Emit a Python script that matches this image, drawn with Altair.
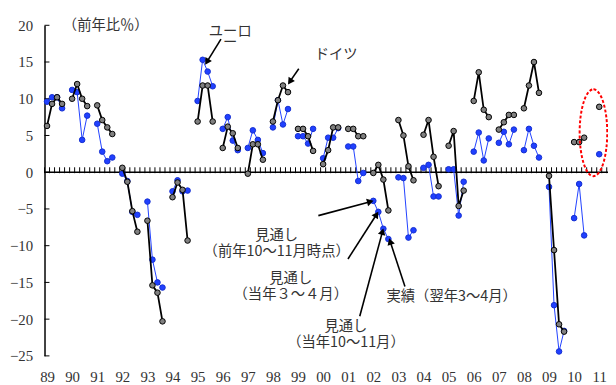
import math
import altair as alt
import numpy as np
import pandas as pd

# ---------------- data ----------------
years = list(range(1989, 2012))
# each year: [前年10~11月見通し, 当年3~4月見通し, 当年10~11月見通し, 実績(翌年3~4月)]
germany = [
    [6.3, 9.3, 10.2, 9.3],
    [10.0, 12.0, 10.0, 9.0],
    [9.1, 7.1, 6.1, 5.2],
    [0.6, -1.3, -5.3, -8.1],
    [-6.6, -15.4, -16.4, -20.3],
    [-3.4, -1.4, -2.4, -9.3],
    [6.9, 11.8, 11.8, 6.9],
    [3.3, 6.2, 5.3, 3.3],
    [-0.2, 3.8, 3.8, 1.7],
    [6.9, 9.8, 11.8, 10.9],
    [5.9, 5.9, 4.9, 2.9],
    [1.1, 3.0, 6.1, 6.1],
    [5.9, 5.9, 4.9, 4.9],
    [-0.1, 1.0, -1.0, -5.2],
    [7.1, 5.0, 0.8, -1.1],
    [5.1, 7.1, 2.1, -1.9],
    [3.6, 5.6, -4.6, -2.5],
    [9.7, 13.6, 8.5, 7.5],
    [5.8, 6.8, 7.8, 7.8],
    [8.7, 11.8, 15.0, 10.8],
    [-0.5, -10.6, -20.7, -21.7],
    [4.1, 4.1, 4.7],
    [8.9],
]
euro = [
    [9.6, 10.2, 10.2, 8.7],
    [11.2, 10.9, 4.4, 7.7],
    [6.6, 2.8, 1.5, 2.0],
    [-0.2, -1.2, -5.4, -5.8],
    [-4.0, -11.9, -15.0, -15.7],
    [-2.6, -1.1, -2.6, -2.5],
    [9.7, 15.3, 13.7, 11.7],
    [5.9, 7.5, 4.3, 3.0],
    [3.3, 5.7, 4.4, 2.6],
    [6.1, 9.8, 6.5, 8.6],
    [4.9, 4.9, 3.9, 5.9],
    [1.9, 4.7, 4.7, 6.0],
    [3.5, 3.5, -1.2, -0.1],
    [-3.9, -5.4, -7.7, -9.1],
    [-0.7, -0.8, -8.9, -7.9],
    [0.6, 1.0, -3.3, -3.3],
    [0.4, 0.4, -5.9, -1.3],
    [2.8, 5.4, 1.6, 4.6],
    [4.0, 5.5, 3.8, 5.8],
    [3.0, 5.9, 3.6, 2.0],
    [-2.0, -18.1, -24.4, -21.6],
    [-6.25, -1.6, -8.6],
    [2.45],
]
y_ticks = [-25, -20, -15, -10, -5, 0, 5, 10, 15, 20]

# annotation texts (x in year-index units, y in %); "\n" = line break
ann_text = ["（前年比％）", "ドイツ",
            "見通し\n（前年10〜11月時点）",
            "見通し\n（当年３～４月）",
            "見通し\n（当年10〜11月）",
            "実績（翌年3〜4月）"]
ann_x = [2.34, 11.52, 9.15, 9.71, 11.91, 16.12]
ann_y = [19.87, 15.97, -8.66, -14.56, -21.14, -17.05]
euro_label = "ユーロ\nー"
euro_x, euro_y = 7.3, 19.06

# arrows: start -> end
arr_x1 = [6.93, 10.03, 10.81, 11.99, 12.46, 14.26]
arr_y1 = [18.12, 14.09, -5.91, -11.81, -19.6, -15.57]
arr_x2 = [6.30, 9.60, 13.01, 13.20, 13.40, 13.63]
arr_y2 = [14.63, 11.95, -3.89, -5.37, -7.65, -8.99]

# ---------------- layout ----------------
W, H = 571, 335
XMIN, XMAX = -0.1, 22.35
YMIN, YMAX = -25, 20


def px(x):
    return (x - XMIN) / (XMAX - XMIN) * W


def py(y):
    return (YMAX - y) / (YMAX - YMIN) * H


def dx(p):
    return p / W * (XMAX - XMIN) + XMIN


def dy(p):
    return YMAX - p / H * (YMAX - YMIN)


rows = []
for i, yr in enumerate(years):
    for q, v in enumerate(germany[i]):
        rows.append(dict(series="ドイツ", year=yr, x=i + 0.2 * q, v=v))
    for q, v in enumerate(euro[i]):
        rows.append(dict(series="ユーロ", year=yr, x=i + 0.2 * q, v=v))
df = pd.DataFrame(rows)
df_de = df[df.series == "ドイツ"]
df_eu = df[df.series == "ユーロ"]

xs = alt.Scale(domain=[XMIN, XMAX], nice=False, zero=False)
ys = alt.Scale(domain=[YMIN, YMAX], nice=False, zero=False)

LABEL_FONT = "Liberation Serif"
JP_FONT = "Noto Sans CJK JP"
TXT = "#333333"

x_axis = alt.Axis(values=list(range(len(years))),
                  labelExpr="format((datum.value + 89) % 100, '02d')",
                  domain=False, ticks=False, grid=False, title=None,
                  labelPadding=14, labelFontSize=15, labelFont=LABEL_FONT,
                  labelColor=TXT, labelFlush=False, labelOverlap=False)
y_axis = alt.Axis(values=y_ticks, domain=True, domainColor="black", domainWidth=1.5,
                  ticks=False, grid=False, title=None, labelPadding=12,
                  labelFontSize=15, labelFont=LABEL_FONT, labelColor=TXT)

X = lambda f: alt.X(f, type="quantitative", scale=xs, axis=x_axis)
Y = lambda f: alt.Y(f, type="quantitative", scale=ys, axis=y_axis)

zero_line = alt.Chart(pd.DataFrame({"v": [0]})).mark_rule(color="black", strokeWidth=1.5).encode(
    y=Y("v"), x=alt.value(0), x2=alt.value(W))

tick_pos = np.arange(XMIN, XMAX, 0.2)
zpx = py(0)
zero_ticks = alt.Chart(pd.DataFrame({"x": tick_pos})).mark_rule(color="black", strokeWidth=1).encode(
    x=X("x"), y=alt.value(zpx - 5), y2=alt.value(zpx + 1))

y_in_ticks = alt.Chart(pd.DataFrame({"v": y_ticks})).mark_rule(color="black", strokeWidth=1).encode(
    y=Y("v"), x=alt.value(0), x2=alt.value(5))

BLUE = "#2040FF"
eu_line = alt.Chart(df_eu).mark_line(color=BLUE, strokeWidth=1).encode(
    x=X("x"), y=Y("v"), detail="year:N", order="x:Q")
eu_pts = alt.Chart(df_eu).mark_point(filled=True, fill=BLUE, stroke="#1530D0",
                                     strokeWidth=1, size=32, opacity=1, shape="circle").encode(
    x=X("x"), y=Y("v"))
de_line = alt.Chart(df_de).mark_line(color="black", strokeWidth=1.8).encode(
    x=X("x"), y=Y("v"), detail="year:N", order="x:Q")
de_pts = alt.Chart(df_de).mark_point(filled=True, fill="#808080", stroke="black",
                                     strokeWidth=1, size=32, opacity=1, shape="circle").encode(
    x=X("x"), y=Y("v"))

# red dashed ellipse around the 2011 forecasts
ell_path = "M 0 -1 A 0.318 1 0 1 1 0 1 A 0.318 1 0 1 1 0 -1 Z"
ellipse = alt.Chart(pd.DataFrame({"x": [21.77], "v": [5.37]})).mark_point(
    shape=ell_path, size=88 * 88, filled=False, stroke="red", strokeWidth=2,
    strokeDash=[3, 2], opacity=1).encode(x=X("x"), y=Y("v"))

tdf = pd.DataFrame({"t": ann_text, "x": ann_x, "v": ann_y})
texts = alt.Chart(tdf).mark_text(
    font=JP_FONT, fontSize=14.5, color=TXT, align="center", baseline="middle",
    lineBreak="\n", lineHeight=16).encode(
    x=X("x"), y=Y("v"), text="t:N")

euro_text = alt.Chart(pd.DataFrame({"t": [euro_label], "x": [euro_x], "v": [euro_y]})).mark_text(
    font=JP_FONT, fontSize=14.5, color=TXT, align="center", baseline="middle",
    lineBreak="\n", lineHeight=11).encode(
    x=X("x"), y=Y("v"), text="t:N")

# arrows
shaft_rows, head_rows = [], []
for a, b, c, d in zip(arr_x1, arr_y1, arr_x2, arr_y2):
    p1 = (px(a), py(b))
    p2 = (px(c), py(d))
    ddx, ddy = p2[0] - p1[0], p2[1] - p1[1]
    L = math.hypot(ddx, ddy)
    ux, uy = ddx / L, ddy / L
    h = 3.4
    cx, cy = p2[0] - ux * h, p2[1] - uy * h
    ang = math.degrees(math.atan2(ddx, -ddy)) % 360
    shaft_rows.append(dict(x=a, v=b, x2=dx(cx), v2=dy(cy)))
    head_rows.append(dict(x=dx(cx), v=dy(cy), ang=ang))

shafts = alt.Chart(pd.DataFrame(shaft_rows)).mark_rule(color="black", strokeWidth=1.6).encode(
    x=X("x"), y=Y("v"), x2="x2:Q", y2="v2:Q")
heads = alt.Chart(pd.DataFrame(head_rows)).mark_point(
    shape="triangle-up", filled=True, fill="black", size=60, opacity=1, strokeWidth=0).encode(
    x=X("x"), y=Y("v"), angle=alt.Angle("ang:Q", scale=None))

chart = alt.layer(
    zero_line, zero_ticks, y_in_ticks,
    eu_line, eu_pts, de_line, de_pts, ellipse, texts, euro_text, shafts, heads
).properties(
    width=W, height=H,
    autosize=alt.AutoSizeParams(type="none"),
    padding={"left": 37, "top": 15, "right": 0, "bottom": 27},
).configure_view(stroke=None)

chart.save("out.html", embed_options={"renderer": "svg", "actions": False})
